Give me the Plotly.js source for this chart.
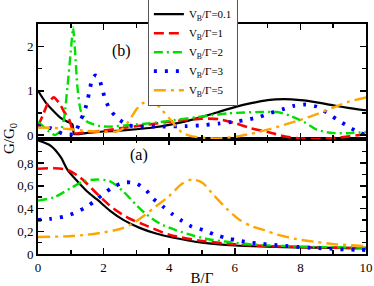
<!DOCTYPE html>
<html>
<head>
<meta charset="utf-8">
<script src="https://cdn.plot.ly/plotly-3.0.1.min.js"></script>
<style>html,body{margin:0;padding:0;background:#fff}#plot{width:374px;height:286px}</style>
</head>
<body>
<div id="plot"></div>
<script>
// Series labels
const seriesNames = ["V<sub>B</sub>/Γ=0.1", "V<sub>B</sub>/Γ=1", "V<sub>B</sub>/Γ=2", "V<sub>B</sub>/Γ=3", "V<sub>B</sub>/Γ=5"];

// Panel (a), bottom
const a_x_01 = [0,0.4,0.7,0.9,1.2,1.5,1.8,2.2,2.6,3.1,3.6,4.1,5,6,7,8,9,10];
const a_y_01 = [1.0,0.95,0.85,0.74,0.64,0.55,0.48,0.38,0.30,0.23,0.18,0.145,0.10,0.075,0.065,0.058,0.054,0.05];
const a_x_1 = [0,0.5,0.9,1.3,1.8,2.3,2.8,3.3,4,5,6,7,8,9,10];
const a_y_1 = [0.75,0.755,0.74,0.67,0.53,0.40,0.31,0.25,0.17,0.115,0.085,0.07,0.062,0.056,0.052];
const a_x_2 = [0,0.5,1,1.4,1.8,2.2,2.6,3.0,3.3,3.7,4.2,4.7,5.2,5.7,6.5,7.5,8.5,10];
const a_y_2 = [0.47,0.50,0.58,0.64,0.655,0.64,0.55,0.43,0.35,0.27,0.21,0.165,0.13,0.11,0.085,0.07,0.062,0.055];
const a_x_3 = [0,0.4,0.8,1.1,1.45,1.75,2.0,2.3,2.65,3.0,3.3,3.5,3.8,4.1,4.4,4.7,5.05,5.4,5.75,6.1,6.5,6.8,7.2,7.55,7.9,8.3,8.65,9.0,9.35,9.7,10];
const a_y_3 = [0.30,0.31,0.33,0.36,0.41,0.47,0.53,0.59,0.63,0.62,0.56,0.49,0.42,0.35,0.29,0.24,0.21,0.17,0.14,0.12,0.10,0.09,0.08,0.072,0.063,0.055,0.05,0.045,0.04,0.037,0.035];
const a_x_5 = [0,0.8,1.5,2.0,2.5,2.9,3.2,3.6,4.0,4.4,4.7,5.0,5.35,5.75,6.15,6.55,6.9,7.3,7.9,8.5,9.1,10];
const a_y_5 = [0.15,0.155,0.17,0.19,0.22,0.27,0.33,0.42,0.51,0.62,0.655,0.63,0.52,0.40,0.30,0.24,0.21,0.17,0.13,0.105,0.085,0.07];

// Panel (b), top
const b_x_01 = [0,0.25,0.5,0.7,0.9,1.05,1.1,1.5,2,2.5,3,3.5,4,4.5,5,5.5,6,6.5,7,7.5,8,8.5,9,9.5,10];
const b_y_01 = [1.0,0.72,0.52,0.38,0.3,0.24,0.02,0.05,0.08,0.1,0.13,0.17,0.23,0.31,0.41,0.52,0.63,0.72,0.79,0.81,0.79,0.74,0.67,0.61,0.56];
const b_x_1 = [0,0.15,0.3,0.48,0.65,0.8,0.95,1.05,1.1,1.5,2,2.5,3,3.5,4,4.5,5,5.5,6,6.5,7,7.5,8,8.5,9,9.5,10];
const b_y_1 = [0.2,0.45,0.72,0.85,0.72,0.52,0.35,0.12,0.04,0.06,0.1,0.15,0.2,0.25,0.3,0.34,0.37,0.36,0.27,0.15,0.07,-0.03,-0.08,-0.09,-0.07,-0.03,0.02];
const b_x_2 = [0,0.15,0.3,0.5,0.7,0.8,0.9,1.0,1.07,1.13,1.2,1.3,1.5,1.9,2.2,2.7,3.2,3.8,4.3,4.8,5.3,5.8,6.3,6.8,7.3,7.7,8.1,8.5,8.9,9.4,10];
const b_y_2 = [0.3,0.2,0.1,0.0,0.1,0.4,1.1,1.9,2.43,1.9,1.1,0.56,0.3,0.2,0.19,0.22,0.25,0.3,0.35,0.4,0.45,0.49,0.51,0.52,0.52,0.43,0.3,0.12,0.05,0.04,0.07];
const b_x_3 = [0,0.4,0.75,1.1,1.3,1.4,1.5,1.57,1.65,1.75,1.85,1.95,2.05,2.2,2.45,2.75,3.1,3.8,4.5,5.0,5.5,6.0,6.4,6.75,7.1,7.45,7.8,8.15,8.5,8.8,9.1,9.4,9.7,10];
const b_y_3 = [0.2,0.15,0.03,0.02,0.34,0.5,0.75,1.0,1.26,1.35,1.31,1.06,0.81,0.57,0.36,0.22,0.19,0.19,0.2,0.22,0.26,0.3,0.35,0.41,0.5,0.58,0.66,0.69,0.64,0.51,0.36,0.22,0.09,0.0];
const b_x_5 = [0,0.5,1,1.5,2,2.4,2.6,2.8,3.0,3.2,3.4,3.6,3.8,4.0,4.2,4.4,4.7,5.0,5.5,6.0,6.5,7.0,7.5,8.0,8.5,9.0,9.5,10];
const b_y_5 = [0.17,0.16,0.13,0.09,0.075,0.08,0.15,0.35,0.58,0.72,0.75,0.71,0.55,0.38,0.2,0.05,-0.03,-0.06,-0.075,-0.04,0.03,0.12,0.23,0.34,0.47,0.62,0.76,0.85];

// Styles
const colors = ["#000000", "#ff0000", "#00e000", "#0000ff", "#ffa500"];
const dashes = ["solid", "10px,5px", "9px,4px,2px,4px", "3px,8px", "12px,5px,3px,5px"];
const widths = [2.2, 2.6, 2.4, 3.8, 2.4];

const aX = [a_x_01, a_x_1, a_x_2, a_x_3, a_x_5];
const aY = [a_y_01, a_y_1, a_y_2, a_y_3, a_y_5];
const bX = [b_x_01, b_x_1, b_x_2, b_x_3, b_x_5];
const bY = [b_y_01, b_y_1, b_y_2, b_y_3, b_y_5];

const traces = [];
for (let i = 0; i < 5; i++) {
  traces.push({
    x: bX[i], y: bY[i], xaxis: "x2", yaxis: "y2", type: "scatter", mode: "lines",
    name: seriesNames[i], showlegend: true, legendgroup: "g" + i,
    line: {color: colors[i], width: widths[i], dash: dashes[i], shape: "spline", smoothing: 0.5}
  });
}
for (let i = 0; i < 5; i++) {
  traces.push({
    x: aX[i], y: aY[i], xaxis: "x", yaxis: "y", type: "scatter", mode: "lines",
    name: seriesNames[i], showlegend: false, legendgroup: "g" + i,
    line: {color: colors[i], width: widths[i], dash: dashes[i], shape: "spline", smoothing: 0.8}
  });
}

const serif = "Liberation Serif, Times New Roman, serif";
const axCommon = {
  showline: true, linecolor: "#000", linewidth: 2, mirror: "allticks",
  ticks: "inside", ticklen: 6, tickwidth: 1.5, tickcolor: "#000",
  showgrid: false, zeroline: false,
  tickfont: {family: serif, size: 13, color: "#000"}
};

const layout = {
  width: 374, height: 286,
  margin: {l: 38, r: 8, t: 24, b: 32, autoexpand: false},
  paper_bgcolor: "#fff", plot_bgcolor: "#fff",
  separators: ", ",
  showlegend: true,
  legend: {
    x: 0.335, y: 1.11, xanchor: "left", yanchor: "top",
    bgcolor: "#fff", bordercolor: "#555", borderwidth: 1,
    font: {family: serif, size: 11, color: "#000"},
    itemwidth: 30, tracegroupgap: 0
  },
  xaxis: Object.assign({}, axCommon, {
    domain: [0, 1], anchor: "y", range: [0, 10], tickvals: [0, 2, 4, 6, 8, 10],
    minor: {tickvals: [1, 3, 5, 7, 9], ticks: "inside", ticklen: 4, tickcolor: "#000", tickwidth: 1.5},
    title: {text: "B/Γ", font: {family: serif, size: 15, color: "#000"}, standoff: 2}
  }),
  yaxis: Object.assign({}, axCommon, {
    domain: [0, 0.5], anchor: "x", range: [0, 1.012],
    tickvals: [0, 0.2, 0.4, 0.6, 0.8],
    ticktext: ["0", "0,2", "0,4", "0,6", "0,8"],
    minor: {tickvals: [0.1, 0.3, 0.5, 0.7, 0.9, 1.0], ticks: "inside", ticklen: 4, tickcolor: "#000", tickwidth: 1.5}
  }),
  xaxis2: Object.assign({}, axCommon, {
    domain: [0, 1], anchor: "y2", range: [0, 10], matches: "x", showticklabels: false,
    tickvals: [0, 2, 4, 6, 8, 10],
    minor: {tickvals: [1, 3, 5, 7, 9], ticks: "inside", ticklen: 4, tickcolor: "#000", tickwidth: 1.5}
  }),
  yaxis2: Object.assign({}, axCommon, {
    domain: [0.5, 1], anchor: "x2", range: [-0.09, 2.51],
    tickvals: [0, 1, 2],
    minor: {tickvals: [0.5, 1.5], ticks: "inside", ticklen: 4, tickcolor: "#000", tickwidth: 1.5}
  }),
  annotations: [
    {text: "(b)", xref: "x2", yref: "y2", x: 2.56, y: 1.91, showarrow: false,
     font: {family: serif, size: 16, color: "#000"}},
    {text: "(a)", xref: "x", yref: "y", x: 3.07, y: 0.875, showarrow: false,
     font: {family: serif, size: 16, color: "#000"}},
    {text: "G/G<sub>0</sub>", xref: "paper", yref: "paper", x: -0.085, y: 0.5, textangle: -90,
     showarrow: false, xanchor: "center", yanchor: "middle",
     font: {family: serif, size: 15, color: "#000"}}
  ]
};

Plotly.newPlot("plot", traces, layout, {staticPlot: true, displayModeBar: false});
</script>
</body>
</html>
